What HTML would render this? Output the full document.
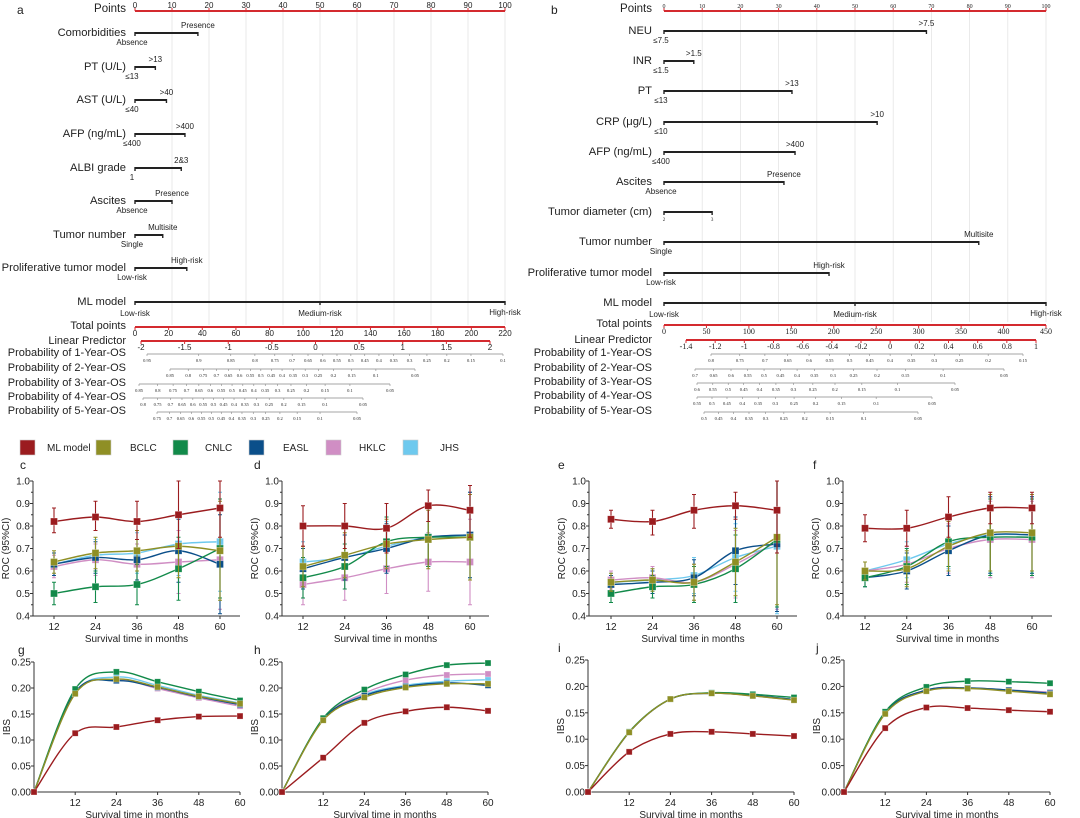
<!DOCTYPE html>
<html><head><meta charset="utf-8">
<style>
html,body{margin:0;padding:0;background:#fff;}
svg{display:block;font-family:"Liberation Sans",sans-serif;}
</style></head>
<body>
<svg id="fig" width="1080" height="818" viewBox="0 0 1080 818" xmlns="http://www.w3.org/2000/svg"></svg>
<script>
// ---------- DATA ----------
const seriesNames = ["ML model","BCLC","CNLC","EASL","HKLC","JHS"];
const seriesColors = ["#9b1c1f","#8f8f25","#128a4a","#0b4f8a","#d08ec4","#6ec9ee"];
const rocMonths = [12,24,36,48,60];
const ibsMonths = [0,12,24,36,48,60];

// ROC panel c
const rocC_ML=[.82,.84,.82,.85,.88], rocC_MLlo=[.77,.78,.74,.70,.75], rocC_MLhi=[.88,.91,.91,1.0,1.0];
const rocC_BCLC=[.64,.68,.69,.71,.69], rocC_CNLC=[.50,.53,.54,.61,.70], rocC_EASL=[.63,.66,.65,.69,.63];
const rocC_HKLC=[.62,.65,.63,.64,.65], rocC_JHS=[.63,.67,.68,.72,.73], rocC_hw=[.05,.07,.09,.14,.22];
// ROC panel d
const rocD_ML=[.80,.80,.79,.89,.87], rocD_MLlo=[.71,.70,.68,.82,.75], rocD_MLhi=[.89,.90,.90,.96,.98];
const rocD_BCLC=[.62,.67,.72,.74,.75], rocD_CNLC=[.57,.62,.73,.75,.75], rocD_EASL=[.61,.66,.70,.75,.76];
const rocD_HKLC=[.54,.57,.61,.64,.64], rocD_JHS=[.64,.66,.71,.75,.76], rocD_hw=[.09,.10,.11,.13,.19];
// ROC panel e
const rocE_ML=[.83,.82,.87,.89,.87], rocE_MLlo=[.79,.76,.79,.83,.68], rocE_MLhi=[.87,.87,.94,.95,1.0];
const rocE_BCLC=[.55,.56,.55,.64,.75], rocE_CNLC=[.50,.53,.54,.61,.74], rocE_EASL=[.54,.55,.57,.69,.72];
const rocE_HKLC=[.56,.57,.55,.63,.73], rocE_JHS=[.55,.56,.58,.66,.71], rocE_hw=[.04,.05,.08,.15,.30];
// ROC panel f
const rocF_ML=[.79,.79,.84,.88,.88], rocF_MLlo=[.73,.71,.75,.81,.81], rocF_MLhi=[.85,.87,.93,.95,.95];
const rocF_BCLC=[.60,.61,.71,.77,.77], rocF_CNLC=[.57,.62,.73,.75,.75], rocF_EASL=[.57,.60,.69,.76,.76];
const rocF_HKLC=[.60,.63,.70,.74,.74], rocF_JHS=[.60,.65,.72,.76,.76], rocF_hw=[.04,.08,.11,.17,.17];

// IBS panels
const ibsG_ML=[0,.113,.125,.138,.145,.146], ibsG_BCLC=[0,.189,.217,.202,.184,.170], ibsG_CNLC=[0,.198,.231,.212,.193,.176];
const ibsG_EASL=[0,.192,.214,.201,.183,.168], ibsG_HKLC=[0,.190,.216,.199,.181,.165], ibsG_JHS=[0,.190,.221,.205,.186,.171];
const ibsH_ML=[0,.066,.133,.155,.163,.156], ibsH_BCLC=[0,.138,.182,.201,.208,.208], ibsH_CNLC=[0,.142,.197,.226,.244,.248];
const ibsH_EASL=[0,.140,.185,.203,.210,.205], ibsH_HKLC=[0,.140,.190,.215,.225,.227], ibsH_JHS=[0,.140,.187,.205,.213,.216];
const ibsI_ML=[0,.076,.110,.114,.110,.106], ibsI_BCLC=[0,.113,.176,.187,.182,.174], ibsI_CNLC=[0,.114,.176,.188,.185,.179];
const ibsI_EASL=[0,.113,.176,.187,.183,.175], ibsI_HKLC=[0,.113,.176,.187,.182,.174], ibsI_JHS=[0,.113,.176,.187,.183,.175];
const ibsJ_ML=[0,.121,.160,.159,.155,.152], ibsJ_BCLC=[0,.148,.191,.196,.191,.185], ibsJ_CNLC=[0,.152,.199,.210,.209,.206];
const ibsJ_EASL=[0,.150,.193,.197,.193,.187], ibsJ_HKLC=[0,.150,.193,.197,.193,.189], ibsJ_JHS=[0,.150,.192,.197,.193,.189];

// Nomogram a
const nomA_vars=["Comorbidities","PT (U/L)","AST (U/L)","AFP (ng/mL)","ALBI grade","Ascites","Tumor number","Proliferative tumor model","ML model"];
const nomA_points=[17,5.5,8.5,13.5,12.5,10,7.5,14,100];
const nomA_low=["Absence","≤13","≤40","≤400","1","Absence","Single","Low-risk","Low-risk"];
const nomA_high=["Presence",">13",">40",">400","2&3","Presence","Multisite","High-risk","High-risk"];
const nomA_totalTicks=[0,20,40,60,80,100,120,140,160,180,200,220];
const nomA_lpTicks=["-2","-1.5","-1","-0.5","0","0.5","1","1.5","2"];
const nomA_p1=[.95,.9,.85,.8,.75,.7,.65,.6,.55,.5,.45,.4,.35,.3,.25,.2,.15,.1];
const nomA_p2=[.85,.8,.75,.7,.65,.6,.55,.5,.45,.4,.35,.3,.25,.2,.15,.1,.05];
const nomA_p3=[.85,.8,.75,.7,.65,.6,.55,.5,.45,.4,.35,.3,.25,.2,.15,.1,.05];
const nomA_p4=[.8,.75,.7,.65,.6,.55,.5,.45,.4,.35,.3,.25,.2,.15,.1,.05];
const nomA_p5=[.75,.7,.65,.6,.55,.5,.45,.4,.35,.3,.25,.2,.15,.1,.05];
// Nomogram b
const nomB_vars=["NEU","INR","PT","CRP (μg/L)","AFP (ng/mL)","Ascites","Tumor diameter (cm)","Tumor number","Proliferative tumor model","ML model"];
const nomB_points=[68.7,7.8,33.5,55.8,34.3,31.4,12.6,82.4,43.2,100];
const nomB_low=["≤7.5","≤1.5","≤13","≤10","≤400","Absence","2","Single","Low-risk","Low-risk"];
const nomB_high=[">7.5",">1.5",">13",">10",">400","Presence","3","Multisite","High-risk","High-risk"];
const nomB_totalTicks=[0,50,100,150,200,250,300,350,400,450];
const nomB_lpTicks=["-1.4","-1.2","-1","-0.8","-0.6","-0.4","-0.2","0","0.2","0.4","0.6","0.8","1"];
const nomB_p1=[.8,.75,.7,.65,.6,.55,.5,.45,.4,.35,.3,.25,.2,.15];
const nomB_p2=[.7,.65,.6,.55,.5,.45,.4,.35,.3,.25,.2,.15,.1,.05];
const nomB_p3=[.6,.55,.5,.45,.4,.35,.3,.25,.2,.15,.1,.05];
const nomB_p4=[.55,.5,.45,.4,.35,.3,.25,.2,.15,.1,.05];
const nomB_p5=[.5,.45,.4,.35,.3,.25,.2,.15,.1,.05];

// ---------- HELPERS ----------
const NS="http://www.w3.org/2000/svg";
const svg=document.getElementById('fig');
function mk(tag,attrs,parent){const e=document.createElementNS(NS,tag);for(const k in attrs)e.setAttribute(k,attrs[k]);(parent||svg).appendChild(e);return e;}
function txt(s,x,y,size,anchor,parent,extra){const t=mk('text',Object.assign({x:x,y:y,'font-size':size,'text-anchor':anchor||'start',fill:'#222'},extra||{}),parent);t.textContent=s;return t;}
function smooth(pts){let d="M"+pts[0][0]+","+pts[0][1];for(let i=0;i<pts.length-1;i++){const p0=pts[i-1]||pts[i],p1=pts[i],p2=pts[i+1],p3=pts[i+2]||p2;const c1x=p1[0]+(p2[0]-p0[0])/6,c1y=p1[1]+(p2[1]-p0[1])/6,c2x=p2[0]-(p3[0]-p1[0])/6,c2y=p2[1]-(p3[1]-p1[1])/6;d+=` C${c1x},${c1y} ${c2x},${c2y} ${p2[0]},${p2[1]}`;}return d;}
const logit=p=>Math.log(p/(1-p));

// ---------- NOMOGRAM ----------
function nomogram(o){
  const g=mk('g',{});
  
  
  const px=v=>o.x0+(o.x1-o.x0)*v/100;
  const pl=txt(o.letter,o.letterX,14,12,'start',g);
  
  
  for(let v=10;v<=100;v+=10){const gl=mk('line',{x1:px(v),x2:px(v),y1:o.ptsY,y2:o.gridEnd,stroke:'#e4e4e4','stroke-width':0.8},g);}
  txt("Points",o.labX,o.ptsY+1,11.5,'end',g);
  const pa=mk('line',{x1:o.x0,x2:o.x1,y1:o.ptsY,y2:o.ptsY,stroke:'#d42a2f','stroke-width':2},g);
  
  for(let v=0;v<=100;v+=10){mk('line',{x1:px(v),x2:px(v),y1:o.ptsY,y2:o.ptsY-3,stroke:'#d42a2f'},g);txt(String(v),px(v),o.ptsY-3,o.ptsFont,'middle',g,o.ptsSerif?{'font-family':'Liberation Serif'}:{});}
  o.vars.forEach((n,i)=>{
    const y=o.rowY[i];
    const lbl=txt(n,o.labX,y+3,11.2,'end',g);
    
    const bar=mk('line',{x1:o.x0,x2:px(o.points[i]),y1:y,y2:y,stroke:'#222','stroke-width':2},g);
    
    mk('line',{x1:o.x0,x2:o.x0,y1:y-1,y2:y+3,stroke:'#222','stroke-width':1.4},g);
    mk('line',{x1:px(o.points[i]),x2:px(o.points[i]),y1:y-1,y2:y+3,stroke:'#222','stroke-width':1.4},g);
    const small=(o.vars[i]==="Tumor diameter (cm)");
    if(n==="ML model"){
      mk('line',{x1:px(50),x2:px(50),y1:y-1,y2:y+3,stroke:'#222','stroke-width':1.4},g);
      txt("Low-risk",o.x0,y+14,8,'middle',g);txt("Medium-risk",px(50),y+14,8,'middle',g);txt("High-risk",px(100),y+13,8,'middle',g);
    } else if(small){
      txt(o.low[i],o.x0,y+9,5,'middle',g,{'font-family':'Liberation Serif'});txt(o.high[i],px(o.points[i]),y+9,5,'middle',g,{'font-family':'Liberation Serif'});
    } else {
      txt(o.low[i],o.x0-3,y+12,8,'middle',g);
      txt(o.high[i],px(o.points[i])+(o.highShift||0),y-5,8,'middle',g);
    }
  });
  const tmax=o.totalTicks[o.totalTicks.length-1];
  const tx=v=>o.x0+(o.x1-o.x0)*v/tmax;
  txt("Total points",o.labX,o.totY+2,11,'end',g);
  const ta=mk('line',{x1:o.x0,x2:o.x1,y1:o.totY,y2:o.totY,stroke:'#d42a2f','stroke-width':2},g);
  
  o.totalTicks.forEach(v=>{mk('line',{x1:tx(v),x2:tx(v),y1:o.totY,y2:o.totY+3,stroke:'#d42a2f'},g);txt(String(v),tx(v),o.totY+9,o.totFont,'middle',g,o.ptsSerif?{'font-family':'Liberation Serif'}:{});});
  txt("Linear Predictor",o.labX,o.lpY+3,11,'end',g);
  const la=mk('line',{x1:o.lpX0,x2:o.lpX1,y1:o.lpY,y2:o.lpY,stroke:'#d42a2f','stroke-width':2},g);
  
  o.lpTicks.forEach((s,i)=>{const x=o.lpX0+(o.lpX1-o.lpX0)*i/(o.lpTicks.length-1);mk('line',{x1:x,x2:x,y1:o.lpY,y2:o.lpY+3,stroke:'#d42a2f'},g);txt(s,x,o.lpY+9,o.totFont,'middle',g,o.ptsSerif?{'font-family':'Liberation Serif'}:{});});
  o.probs.forEach((arr,k)=>{
    const y=o.probY[k], xa=o.probX[k][0], xb=o.probX[k][1];
    const la0=logit(arr[0]), la1=logit(arr[arr.length-1]);
    const ppx=p=>xa+(xb-xa)*(logit(p)-la0)/(la1-la0);
    const lbl=txt("Probability of "+(k+1)+"-Year-OS",o.labX,y+2,11,'end',g);
    
    const sc=mk('line',{x1:xa,x2:xb,y1:y,y2:y,stroke:'#888','stroke-width':0.8},g);
    
    arr.forEach(p=>{mk('line',{x1:ppx(p),x2:ppx(p),y1:y,y2:y+2,stroke:'#888','stroke-width':0.6},g);txt(String(p),ppx(p),y+8,4.5,'middle',g,{'font-family':'Liberation Serif'});});
  });
}
nomogram({name:'nomogram-a',letter:'a',letterX:17,x0:135,x1:505,labX:126,ptsY:11,gridEnd:325,ptsFont:8,totFont:8,
  vars:nomA_vars,points:nomA_points,low:nomA_low,high:nomA_high,rowY:[33,67,100,134,168,201,235,268,302],
  totalTicks:nomA_totalTicks,totY:327,lpTicks:nomA_lpTicks,lpY:341,lpX0:141,lpX1:490,
  probs:[nomA_p1,nomA_p2,nomA_p3,nomA_p4,nomA_p5],probY:[354,369,384,398,412],
  probX:[[147,503],[170,415],[139,390],[143,363],[157,357]]});
nomogram({name:'nomogram-b',letter:'b',letterX:551,x0:664,x1:1046,labX:652,ptsY:11,gridEnd:322,ptsFont:6,totFont:8,ptsSerif:true,
  vars:nomB_vars,points:nomB_points,low:nomB_low,high:nomB_high,rowY:[31,61,91,122,152,182,212,242,273,303],
  totalTicks:nomB_totalTicks,totY:325,lpTicks:nomB_lpTicks,lpY:340,lpX0:686,lpX1:1036,
  probs:[nomB_p1,nomB_p2,nomB_p3,nomB_p4,nomB_p5],probY:[354,369,383,397,412],
  probX:[[711,1023],[695,1004],[697,955],[697,932],[704,918]]});

// ---------- LEGEND ----------
const legX=[20,96,173,249,326,403], legTX=[47,130,205,283,359,440];
seriesNames.forEach((n,i)=>{
  const r=mk('rect',{x:legX[i],y:440,width:15,height:15,fill:seriesColors[i],stroke:'#ccc','stroke-width':0.6});
  
  
  const t=txt(n,legTX[i],451,10,'start');
  
  
});

// ---------- LINE PANELS ----------
function panel(o){
  const g=mk('g',{});
  
  
  const xs=v=>o.xa+(o.xb-o.xa)*(v-o.xmin)/(o.xmax-o.xmin);
  const ys=v=>o.yb-(o.yb-o.yt)*(v-o.ymin)/(o.ymax-o.ymin);
  const pl=txt(o.letter,o.letterX,o.letterY,12,'start',g);
  
  const ya=mk('line',{x1:o.ax,x2:o.ax,y1:o.yt,y2:o.yb,stroke:'#333','stroke-width':1},g);
  
  const xa=mk('line',{x1:o.ax,x2:o.axEnd,y1:o.yb,y2:o.yb,stroke:'#333','stroke-width':1},g);
  
  o.yTicks.forEach((t,i)=>{const y=ys(t);mk('line',{x1:o.ax-3,x2:o.ax,y1:y,y2:y,stroke:'#333'},g);txt(o.yLabels[i],o.ax-3,y+3.5,10,'end',g);
    if(o.minor&&i<o.yTicks.length-1){const ym=ys(t+(o.yTicks[1]-o.yTicks[0])/2);mk('line',{x1:o.ax-2,x2:o.ax,y1:ym,y2:ym,stroke:'#333'},g);}});
  o.xTicks.forEach(t=>{const x=xs(t);mk('line',{x1:x,x2:x,y1:o.yb,y2:o.yb+3,stroke:'#333'},g);txt(String(t),x,o.yb+14,10,'middle',g);});
  const xt=txt("Survival time in months",(o.ax+o.axEnd)/2,o.yb+26,10,'middle',g);
  
  const cy=(o.yt+o.yb)/2;
  const yt=txt(o.ytitle,o.ax-24,cy,10,'middle',g,{transform:`rotate(-90 ${o.ax-24} ${cy})`});
  
  const order=[5,4,3,2,1,0];
  order.forEach(si=>{
    const vals=o.series[si], col=seriesColors[si];
    if(o.hw||o.lo){
      vals.forEach((v,j)=>{
        let lo,hi;
        if(si===0){lo=o.lo[j];hi=o.hi[j];}else{lo=Math.max(o.ymin,v-o.hw[j]);hi=Math.min(1,v+o.hw[j]);}
        const x=xs(o.x[j]);
        const eb=mk('path',{d:`M${x},${ys(lo)}V${ys(hi)}M${x-2},${ys(lo)}H${x+2}M${x-2},${ys(hi)}H${x+2}`,stroke:col,'stroke-width':1.1,fill:'none'},g);
        
      });
    }
    const pts=vals.map((v,j)=>[xs(o.x[j]),ys(v)]);
    const ln=mk('path',{d:smooth(pts),stroke:col,'stroke-width':1.4,fill:'none'},g);
    
    
    pts.forEach(p=>{const m=mk('rect',{x:p[0]-o.ms/2,y:p[1]-o.ms/2,width:o.ms,height:o.ms,fill:col,stroke:'rgba(255,255,255,0.5)','stroke-width':0.6},g);
      });
  });
}
const rocYT=[.4,.5,.6,.7,.8,.9,1.0], rocYL=["0.4","0.5","0.6","0.7","0.8","0.9","1.0"];
const ibsYT=[0,.05,.1,.15,.2,.25], ibsYL=["0.00","0.05","0.10","0.15","0.20","0.25"];
function roc(name,letter,lx,ax,axEnd,x12,x60,s,lo,hi,hw){
  panel({name:name,letter:letter,letterX:lx,letterY:469,ax:ax,axEnd:axEnd,xa:x12,xb:x60,xmin:12,xmax:60,yt:481,yb:616,ymin:.4,ymax:1.0,
    yTicks:rocYT,yLabels:rocYL,xTicks:rocMonths,x:rocMonths,series:s,lo:lo,hi:hi,hw:hw,ytitle:"ROC (95%CI)",minor:true,ms:7});
}
roc('roc-panel-c','c',20,33,240,54,220,[rocC_ML,rocC_BCLC,rocC_CNLC,rocC_EASL,rocC_HKLC,rocC_JHS],rocC_MLlo,rocC_MLhi,rocC_hw);
roc('roc-panel-d','d',254,282,489,303,470,[rocD_ML,rocD_BCLC,rocD_CNLC,rocD_EASL,rocD_HKLC,rocD_JHS],rocD_MLlo,rocD_MLhi,rocD_hw);
roc('roc-panel-e','e',558,589,797,611,777,[rocE_ML,rocE_BCLC,rocE_CNLC,rocE_EASL,rocE_HKLC,rocE_JHS],rocE_MLlo,rocE_MLhi,rocE_hw);
roc('roc-panel-f','f',813,843,1052,865,1032,[rocF_ML,rocF_BCLC,rocF_CNLC,rocF_EASL,rocF_HKLC,rocF_JHS],rocF_MLlo,rocF_MLhi,rocF_hw);
function ibs(name,letter,lx,ly,ax,x60,yt,yb,s){
  panel({name:name,letter:letter,letterX:lx,letterY:ly,ax:ax,axEnd:x60,xa:ax,xb:x60,xmin:0,xmax:60,yt:yt,yb:yb,ymin:0,ymax:.25,
    yTicks:ibsYT,yLabels:ibsYL,xTicks:[12,24,36,48,60],x:ibsMonths,series:s,ytitle:"IBS",minor:false,ms:6});
}
ibs('ibs-panel-g','g',18,654,34,240,662,792,[ibsG_ML,ibsG_BCLC,ibsG_CNLC,ibsG_EASL,ibsG_HKLC,ibsG_JHS]);
ibs('ibs-panel-h','h',254,654,282,488,662,792,[ibsH_ML,ibsH_BCLC,ibsH_CNLC,ibsH_EASL,ibsH_HKLC,ibsH_JHS]);
ibs('ibs-panel-i','i',558,652,588,794,660,792,[ibsI_ML,ibsI_BCLC,ibsI_CNLC,ibsI_EASL,ibsI_HKLC,ibsI_JHS]);
ibs('ibs-panel-j','j',816,652,844,1050,660,792,[ibsJ_ML,ibsJ_BCLC,ibsJ_CNLC,ibsJ_EASL,ibsJ_HKLC,ibsJ_JHS]);
</script>
</body></html>
